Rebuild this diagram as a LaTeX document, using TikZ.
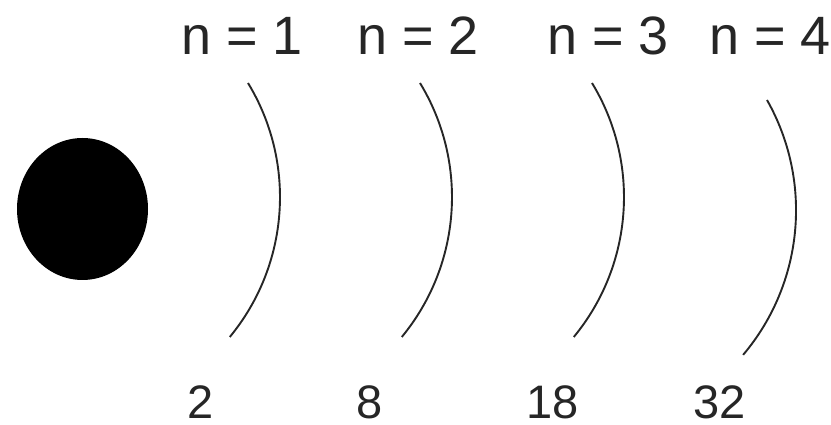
\documentclass[tikz,border=0pt]{standalone}
\usepackage{fontspec}
\setmainfont{Liberation Sans}
\begin{document}
\begin{tikzpicture}[x=1pt,y=1pt,
  shell/.style={line width=1.9pt, draw=black!85},
  toplabel/.style={anchor=base, inner sep=0pt, text=black!85, font=\fontsize{54}{60}\selectfont},
  botlabel/.style={anchor=base, inner sep=0pt, text=black!85, font=\fontsize{47}{52}\selectfont}]
\useasboundingbox (0,0) rectangle (831,425);
% nucleus
\fill[black] (82.5,216) ellipse [x radius=65.5, y radius=71];
% shells
\draw[shell] (248,342) arc[start angle=31.3, end angle=-39.5, radius=219.8];
\draw[shell] (420,342) arc[start angle=31.3, end angle=-39.5, radius=219.8];
\draw[shell] (592,342) arc[start angle=31.3, end angle=-39.5, radius=219.8];
\draw[shell] (767,325) arc[start angle=29.5, end angle=-40.2, radius=224];
% labels
\node[toplabel] (n1) at (242,370) {n = 1};
\node[toplabel] (n2) at (418,370) {n = 2};
\node[toplabel] (n3) at (608,370) {n = 3};
\node[toplabel] (n4) at (770,370) {n = 4};
\node[botlabel] (c1) at (201,6) {2};
\node[botlabel] (c2) at (370,6) {8};
\node[botlabel] (c3) at (553,6) {18};
\node[botlabel] (c4) at (720,6) {32};
\end{tikzpicture}
\end{document}
